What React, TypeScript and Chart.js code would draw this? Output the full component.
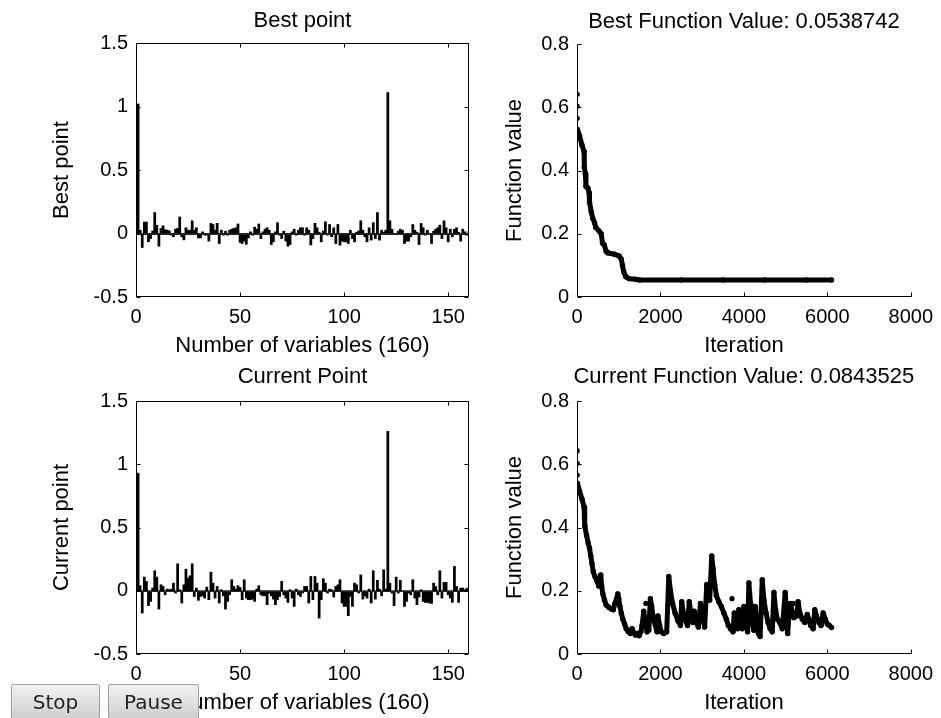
import React, { useEffect, useRef } from 'react';
import { Chart, registerables } from 'chart.js';

Chart.register(...registerables);

const FONT = '"Liberation Sans", Arial, Helvetica, sans-serif';

// ---------- Bar data (160 variables) ----------
const bestPoint = [
  1.02, 0.026, -0.11, 0.09, 0.09, -0.065, -0.04, 0.02, 0.165, 0.065,
  -0.1, 0.04, 0.06, 0.03, 0.026, 0.02, -0.013, -0.026, 0.034, 0.04,
  0.13, -0.026, -0.05, 0.045, 0.026, 0.026, 0.1, 0.026, 0.045, -0.035,
  -0.035, 0.013, -0.013, -0.013, -0.06, 0.079, 0.071, 0.026, 0.08, -0.079,
  0.026, -0.013, 0.018, -0.013, 0.026, 0.034, 0.04, 0.045, 0.075, -0.07,
  -0.079, -0.06, -0.085, -0.035, 0.013, -0.013, 0.05, 0.034, 0.075, -0.04,
  0.013, 0.034, 0.045, 0.026, -0.087, -0.066, 0.013, 0.085, -0.013, -0.04,
  0.018, -0.06, -0.1, -0.087, 0.013, 0.034, -0.013, 0.026, 0.045, 0.045,
  -0.013, 0.045, 0.026, -0.09, -0.04, 0.08, 0.045, 0.01, -0.066, 0.02,
  0.092, -0.013, 0.071, -0.026, 0.045, -0.079, 0.071, -0.092, -0.06, -0.066,
  -0.066, -0.079, 0.026, -0.04, -0.066, 0.01, 0.02, 0.1, 0.026, -0.026,
  -0.066, 0.045, -0.052, 0.085, -0.04, 0.165, -0.052, 0.026, 0.01, 0.026,
  1.11, 0.1, 0.034, -0.008, -0.008, 0.018, 0.034, 0.026, -0.079, -0.06,
  -0.06, -0.026, 0.071, 0.026, 0.01, -0.087, 0.079, 0.045, -0.013, 0.026,
  -0.008, -0.079, 0.018, 0.034, 0.045, 0.066, -0.04, 0.1, 0.045, -0.066,
  0.034, -0.026, 0.034, 0.045, 0.01, -0.06, 0.034, 0.013, -0.013, 0.02,
];

const currentPoint = [
  0.93, 0.04, -0.176, 0.108, 0.074, -0.118, -0.084, 0.021, 0.158, 0.108,
  -0.145, 0.047, 0.034, -0.032, 0.013, 0.008, 0.013, 0.06, -0.018, 0.213,
  0.008, -0.097, 0.047, 0.171, 0.1, 0.118, 0.213, -0.045, 0.021, -0.076,
  -0.045, -0.04, -0.058, 0.029, -0.071, 0.147, 0.06, -0.058, 0.034, -0.097,
  0.008, -0.04, -0.145, -0.084, -0.032, 0.087, 0.034, 0.013, 0.04, 0.026,
  -0.071, 0.087, -0.058, -0.071, -0.071, -0.066, -0.084, 0.013, 0.04, -0.032,
  -0.04, -0.04, -0.11, -0.018, -0.04, -0.066, -0.11, -0.071, -0.045, 0.074,
  -0.032, -0.058, -0.092, 0.008, -0.058, -0.124, 0.013, -0.032, -0.045, -0.018,
  0.034, 0.034, -0.097, 0.113, -0.071, 0.113, 0.06, -0.216, -0.071, 0.095,
  0.06, -0.018, 0.013, 0.008, -0.05, 0.034, 0.047, 0.087, -0.097, -0.124,
  -0.124, -0.197, -0.045, -0.124, 0.06, 0.047, -0.018, 0.126, -0.066, -0.04,
  -0.058, 0.013, -0.097, 0.158, -0.066, 0.082, 0.013, -0.04, 0.166, 0.013,
  1.26, 0.06, -0.018, -0.118, 0.108, -0.018, 0.082, -0.005, -0.124, -0.084,
  -0.018, -0.032, 0.087, -0.058, -0.11, -0.05, 0.008, -0.084, -0.092, -0.092,
  -0.097, -0.1, 0.06, 0.034, -0.032, 0.158, -0.058, 0.066, 0.066, -0.032,
  -0.058, -0.092, 0.192, 0.034, -0.092, 0.021, 0.021, 0.008, 0.021, 0.013,
];

// ---------- Function value traces ----------
const bestIter = [
  10, 60, 120, 170, 175, 200, 215, 260, 290, 300, 340, 375, 420, 450, 520,
  580, 612, 650, 700, 732, 800, 900, 1010, 1060, 1090, 1120, 1170, 1250, 1400,
  1500, 2500, 3500, 4500, 5500, 6100,
];
const bestValue = [
  0.53, 0.51, 0.48, 0.46, 0.41, 0.39, 0.35, 0.345, 0.33, 0.3, 0.27, 0.25, 0.235, 0.22, 0.21,
  0.2, 0.17, 0.165, 0.145, 0.14, 0.138, 0.135, 0.13, 0.12, 0.1, 0.08, 0.064, 0.058, 0.056,
  0.054, 0.054, 0.054, 0.054, 0.054, 0.054,
];
const bestDotIter = [5, 5, 5];
const bestDotValue = [0.641, 0.603, 0.565];

const currentIter = [
  10, 60, 120, 170, 180, 190, 230, 270, 300, 330, 360, 390, 430, 480, 520, 545, 570, 590, 620, 660,
  700, 760, 820, 870, 910, 950, 980, 1000, 1030, 1060, 1100, 1140, 1180, 1230, 1280, 1320, 1350, 1400, 1450, 1490,
  1530, 1560, 1600, 1620, 1650, 1680, 1720, 1760, 1790, 1830, 1880, 1920, 1940, 1980, 2020, 2080, 2150, 2200, 2240, 2290,
  2350, 2420, 2480, 2510, 2550, 2600, 2650, 2690, 2730, 2780, 2810, 2860, 2910, 2960, 3010, 3060, 3110, 3150, 3180, 3230,
  3260, 3300, 3340, 3400, 3460, 3520, 3580, 3630, 3680, 3740, 3770, 3810, 3850, 3880, 3920, 3960, 4000, 4050, 4090, 4120,
  4160, 4200, 4240, 4270, 4310, 4350, 4390, 4440, 4480, 4530, 4580, 4630, 4680, 4720, 4760, 4800, 4860, 4920, 4990, 5020,
  5050, 5080, 5120, 5160, 5200, 5260, 5300, 5340, 5400, 5460, 5520, 5560, 5600, 5660, 5700, 5740, 5800, 5850, 5900, 5950,
  6000, 6050, 6100,
];
const currentValue = [
  0.54, 0.515, 0.49, 0.465, 0.43, 0.405, 0.375, 0.35, 0.335, 0.31, 0.285, 0.26, 0.245, 0.23, 0.215, 0.235, 0.25, 0.215, 0.19, 0.17,
  0.155, 0.148, 0.142, 0.14, 0.16, 0.175, 0.19, 0.175, 0.15, 0.13, 0.11, 0.095, 0.08, 0.07, 0.065, 0.08, 0.07, 0.06, 0.065, 0.058,
  0.07, 0.09, 0.135, 0.115, 0.09, 0.07, 0.075, 0.175, 0.15, 0.11, 0.09, 0.07, 0.12, 0.09, 0.07, 0.065, 0.07, 0.245, 0.2, 0.16,
  0.13, 0.105, 0.09, 0.165, 0.13, 0.105, 0.09, 0.165, 0.13, 0.1, 0.135, 0.1, 0.085, 0.16, 0.12, 0.085, 0.22, 0.2, 0.17, 0.31,
  0.27, 0.22, 0.185, 0.165, 0.15, 0.13, 0.11, 0.09, 0.08, 0.07, 0.13, 0.1, 0.08, 0.14, 0.1, 0.08, 0.15, 0.09, 0.07, 0.225,
  0.16, 0.1, 0.075, 0.15, 0.1, 0.065, 0.055, 0.235, 0.17, 0.13, 0.1, 0.08, 0.07, 0.195, 0.14, 0.11, 0.1, 0.08, 0.195, 0.14,
  0.065, 0.12, 0.16, 0.13, 0.115, 0.12, 0.165, 0.13, 0.11, 0.1, 0.125, 0.11, 0.09, 0.08, 0.14, 0.12, 0.1, 0.09, 0.13, 0.11,
  0.095, 0.09, 0.084,
];
const currentDotIter = [5, 5, 5, 1650, 3715, 5180];
const currentDotValue = [0.643, 0.603, 0.566, 0.16, 0.175, 0.16];

// ---------- Axes ticks ----------
const barXTicks = [0, 50, 100, 150];
const barXTickLabels = ['0', '50', '100', '150'];
const barYTicks = [-0.5, 0, 0.5, 1, 1.5];
const barYTickLabels = ['-0.5', '0', '0.5', '1', '1.5'];
const fnXTicks = [0, 2000, 4000, 6000, 8000];
const fnXTickLabels = ['0', '2000', '4000', '6000', '8000'];
const fnYTicks = [0, 0.2, 0.4, 0.6, 0.8];
const fnYTickLabels = ['0', '0.2', '0.4', '0.6', '0.8'];

const matlabPlugin = {
  id: 'matlab',
  afterDatasetsDraw(chart: any, _args: any, opts: any) {
    const { ctx, chartArea } = chart;
    const { left, right, top, bottom } = chartArea;
    const xs = chart.scales.x;
    const ys = chart.scales.y;
    ctx.save();
    ctx.strokeStyle = '#000';
    ctx.lineWidth = 1;
    const L = Math.round(left) + 0.5;
    const R = Math.round(right) - 0.5;
    const T = Math.round(top) + 0.5;
    const B = Math.round(bottom) - 0.5;
    if (opts.baseline) {
      const y0 = Math.round(ys.getPixelForValue(0)) + 0.5;
      ctx.strokeStyle = '#222';
      ctx.beginPath();
      ctx.moveTo(L, y0);
      ctx.lineTo(R, y0);
      ctx.stroke();
      ctx.strokeStyle = '#000';
    }
    ctx.beginPath();
    ctx.moveTo(L, T);
    ctx.lineTo(L, B);
    ctx.lineTo(opts.box ? R : Math.round(right) + 0.5, B);
    if (opts.box) {
      ctx.lineTo(R, T);
      ctx.lineTo(L, T);
    }
    ctx.stroke();
    const tl = 4;
    ctx.beginPath();
    xs.ticks.forEach((t: any) => {
      const px = Math.round(xs.getPixelForValue(t.value)) + 0.5;
      ctx.moveTo(px, B);
      ctx.lineTo(px, B - tl);
      if (opts.box) {
        ctx.moveTo(px, T);
        ctx.lineTo(px, T + tl);
      }
    });
    ys.ticks.forEach((t: any) => {
      const py = Math.round(ys.getPixelForValue(t.value)) + 0.5;
      ctx.moveTo(L, py);
      ctx.lineTo(L + tl, py);
      if (opts.box) {
        ctx.moveTo(R, py);
        ctx.lineTo(R - tl, py);
      }
    });
    ctx.stroke();

    ctx.fillStyle = '#000';
    ctx.font = `22px ${FONT}`;
    ctx.textAlign = 'center';
    ctx.textBaseline = 'alphabetic';
    const cx = (left + right) / 2;
    ctx.fillText(opts.title, cx, top - opts.titleGap);
    ctx.fillText(opts.xlabel, cx, bottom + 55);
    ctx.save();
    ctx.translate(left - opts.ylabelGap, (top + bottom) / 2);
    ctx.rotate(-Math.PI / 2);
    ctx.textBaseline = 'middle';
    ctx.fillText(opts.ylabel, 0, 0);
    ctx.restore();
    ctx.restore();
  },
};

function axis(min: number, max: number, values: number[], labels: string[], fixed: { width?: number; height?: number }, padding: number) {
  return {
    type: 'linear',
    min,
    max,
    offset: false,
    grid: { display: false, drawTicks: false },
    border: { display: false },
    ticks: {
      color: '#000',
      padding,
      font: { family: FONT, size: 20 },
      autoSkip: false,
      maxRotation: 0,
      callback: (_v: any, i: number) => labels[i],
    },
    afterBuildTicks: (scale: any) => {
      scale.ticks = values.map((v) => ({ value: v }));
    },
    afterFit: (scale: any) => {
      if (fixed.width !== undefined) scale.width = fixed.width;
      if (fixed.height !== undefined) scale.height = fixed.height;
    },
  };
}

type Box = { left: number; top: number; width: number; height: number; pad: any; yw: number; xh: number };

function barConfig(values: number[], box: Box, title: string, ylabel: string, titleGap: number) {
  return {
    type: 'bar',
    data: {
      datasets: [
        {
          data: values.map((v, i) => ({ x: i + 1, y: v })),
          backgroundColor: '#000',
          borderWidth: 0,
          barPercentage: 1,
          categoryPercentage: 1,
        },
      ],
    },
    options: {
      animation: false,
      responsive: false,
      maintainAspectRatio: false,
      layout: { padding: box.pad },
      plugins: {
        legend: { display: false },
        tooltip: { enabled: false },
        title: { display: false },
        matlab: { title, xlabel: 'Number of variables (160)', ylabel, box: true, baseline: true, titleGap, ylabelGap: 74 },
      },
      scales: {
        x: axis(0, 160, barXTicks, barXTickLabels, { height: box.xh }, 8),
        y: axis(-0.5, 1.5, barYTicks, barYTickLabels, { width: box.yw }, 8),
      },
    },
    plugins: [matlabPlugin],
  };
}

function fnConfig(iters: number[], vals: number[], dotIters: number[], dotVals: number[], box: Box, title: string, titleGap: number) {
  return {
    type: 'scatter',
    data: {
      datasets: [
        {
          data: iters.map((x, i) => ({ x, y: vals[i] })),
          showLine: true,
          borderColor: '#000',
          borderWidth: 5,
          borderJoinStyle: 'round',
          borderCapStyle: 'round',
          pointRadius: 2.7,
          pointBackgroundColor: '#000',
          pointBorderWidth: 0,
        },
        {
          data: dotIters.map((x, i) => ({ x, y: dotVals[i] })),
          showLine: false,
          pointRadius: 2.6,
          pointBackgroundColor: '#000',
          pointBorderWidth: 0,
        },
      ],
    },
    options: {
      animation: false,
      responsive: false,
      maintainAspectRatio: false,
      layout: { padding: box.pad },
      plugins: {
        legend: { display: false },
        tooltip: { enabled: false },
        title: { display: false },
        matlab: { title, xlabel: 'Iteration', ylabel: 'Function value', box: false, baseline: false, titleGap, ylabelGap: 62 },
      },
      scales: {
        x: axis(0, 8000, fnXTicks, fnXTickLabels, { height: box.xh }, 8),
        y: axis(0, 0.8, fnYTicks, fnYTickLabels, { width: box.yw }, 8),
      },
    },
    plugins: [matlabPlugin],
  };
}

function Panel({ box, config }: { box: Box; config: any }) {
  const ref = useRef<HTMLCanvasElement>(null);
  useEffect(() => {
    if (!ref.current) return;
    const chart = new Chart(ref.current, config);
    return () => chart.destroy();
  }, []);
  return (
    <canvas
      ref={ref}
      width={box.width}
      height={box.height}
      style={{ position: 'absolute', left: box.left, top: box.top, width: box.width, height: box.height }}
    />
  );
}

const TL: Box = { left: 0, top: 0, width: 480, height: 360, pad: { left: 0, top: 43, right: 11, bottom: 0 }, yw: 136, xh: 63 };
const TR: Box = { left: 480, top: 0, width: 461, height: 360, pad: { left: 0, top: 44, right: 29, bottom: 0 }, yw: 97, xh: 63 };
const BL: Box = { left: 0, top: 360, width: 480, height: 358, pad: { left: 0, top: 41, right: 11, bottom: 0 }, yw: 136, xh: 64 };
const BR: Box = { left: 480, top: 360, width: 461, height: 358, pad: { left: 0, top: 41, right: 29, bottom: 0 }, yw: 97, xh: 64 };

const btnStyle: React.CSSProperties = {
  position: 'absolute',
  top: 684,
  height: 40,
  boxSizing: 'border-box',
  border: '1px solid #a0a0a0',
  borderRadius: 2,
  background: 'linear-gradient(#f2f2f2, #dcdcdc 55%, #c8c8c8)',
  fontFamily: '"DejaVu Sans", Verdana, sans-serif',
  fontSize: 20,
  color: '#222',
  display: 'flex',
  alignItems: 'flex-start',
  justifyContent: 'center',
  paddingTop: 5,
};

export default function App() {
  return (
    <div style={{ position: 'absolute', left: 0, top: 0, width: 941, height: 718, background: '#fff', overflow: 'hidden' }}>
      <Panel box={TL} config={barConfig(bestPoint, TL, 'Best point', 'Best point', 16)} />
      <Panel box={TR} config={fnConfig(bestIter, bestValue, bestDotIter, bestDotValue, TR, 'Best Function Value: 0.0538742', 16)} />
      <Panel box={BL} config={barConfig(currentPoint, BL, 'Current Point', 'Current point', 18)} />
      <Panel box={BR} config={fnConfig(currentIter, currentValue, currentDotIter, currentDotValue, BR, 'Current Function Value: 0.0843525', 18)} />
      <div style={{ ...btnStyle, left: 11, width: 89 }}>Stop</div>
      <div style={{ ...btnStyle, left: 108, width: 91 }}>Pause</div>
    </div>
  );
}
